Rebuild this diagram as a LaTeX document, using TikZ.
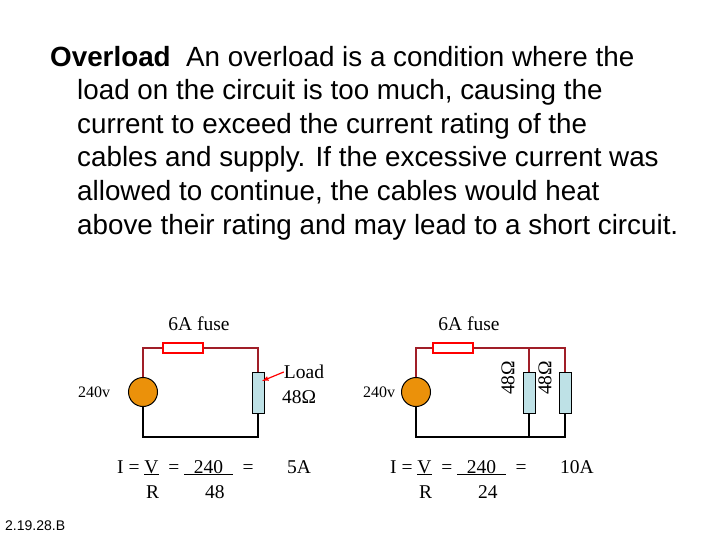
\documentclass[tikz,border=0pt]{standalone}
\usepackage{fontspec}
\setmainfont{Liberation Serif}
\newfontfamily\arialf{Liberation Sans}
\begin{document}
\begin{tikzpicture}[x=1pt,y=-1pt,
  wire/.style={line width=1.6pt},
  hot/.style={wire,draw={rgb,255:red,160;green,30;blue,40}},
  fusebox/.style={draw=red,line width=1.2pt,fill=white,minimum width=40pt,minimum height=10pt,inner sep=0},
  res/.style={draw=black,line width=1pt,fill={rgb,255:red,190;green,225;blue,230},minimum width=12pt,minimum height=41pt,inner sep=0},
  src/.style={circle,draw=black,line width=1pt,fill={rgb,255:red,235;green,145;blue,10},minimum size=29pt,inner sep=0},
  lbl/.style={font=\fontsize{19.5}{21}\selectfont,inner sep=0}]
\useasboundingbox (0,0) rectangle (720,540);
\node[anchor=west,inner sep=0,align=left,font=\arialf\fontsize{27.8}{33.6}\selectfont] (title) at (50,143) {%
\textbf{Overload}\ \ An overload is a condition where the\\
\hspace*{27pt}load on the circuit is too much, causing the\\
\hspace*{27pt}current to exceed the current rating of the\\
\hspace*{27pt}cables and supply. If the excessive current was\\
\hspace*{27pt}allowed to continue, the cables would heat\\
\hspace*{27pt}above their rating and may lead to a short circuit.};
% circuit 1
\coordinate (a1) at (143,348); \coordinate (b1) at (258,348);
\coordinate (c1) at (143,437); \coordinate (d1) at (258,437);
\node[src] (s1) at (143,392) {};
\node[res] (r1) at (258,392.5) {};
\draw[hot] (s1.north) -- (a1) -- (b1) -- (r1.north);
\draw[wire] (s1.south) -- (c1) -- (d1) -- (r1.south);
\node[fusebox] (f1) at (183,348) {};
\node[lbl] (fl1) at (199,324) {6A fuse};
\node[lbl,font=\fontsize{16}{18}\selectfont] (v1) at (94,392) {240v};
\node[lbl] (ld) at (304,372) {Load};
\node[lbl] (om1) at (299,397) {48Ω};
\draw[red,line width=1.2pt,-latex] (ld.west) -- (262,381);
\node[lbl,anchor=base west] (eq1) at (117,473) {I = \underline{V}\ \ = \underline{\ \ 240\ \ }\ \ =};
\node[lbl,anchor=base west] (ans1) at (287,473) {5A};
\node[lbl,anchor=base west] (den1) at (146,498) {R\hspace{46pt}48};
% circuit 2
\coordinate (a2) at (416,348); \coordinate (j2) at (529,348); \coordinate (b2) at (565,348);
\coordinate (c2) at (416,437); \coordinate (k2) at (529,437); \coordinate (d2) at (565,437);
\node[src] (s2) at (416,392) {};
\node[res] (r2) at (529,392.5) {};
\node[res] (r3) at (565,392.5) {};
\draw[hot] (s2.north) -- (a2) -- (j2) -- (b2) -- (r3.north);
\draw[hot] (j2) -- (r2.north);
\draw[wire] (s2.south) -- (c2) -- (k2) -- (d2) -- (r3.south);
\draw[wire] (k2) -- (r2.south);
\node[fusebox] (f2) at (453,348) {};
\node[lbl] (fl2) at (469,324) {6A fuse};
\node[lbl,font=\fontsize{16}{18}\selectfont] (v2) at (379,392) {240v};
\node[lbl,rotate=90] (om2) at (508,378) {48Ω};
\node[lbl,rotate=90] (om3) at (545,378) {48Ω};
\node[lbl,anchor=base west] (eq2) at (390,473) {I = \underline{V}\ \ = \underline{\ \ 240\ \ }\ \ =};
\node[lbl,anchor=base west] (ans2) at (560,473) {10A};
\node[lbl,anchor=base west] (den2) at (419,498) {R\hspace{46pt}24};
\node[anchor=west,inner sep=0,font=\arialf\fontsize{14}{16}\selectfont] (ref) at (5,526) {2.19.28.B};
\end{tikzpicture}
\end{document}
